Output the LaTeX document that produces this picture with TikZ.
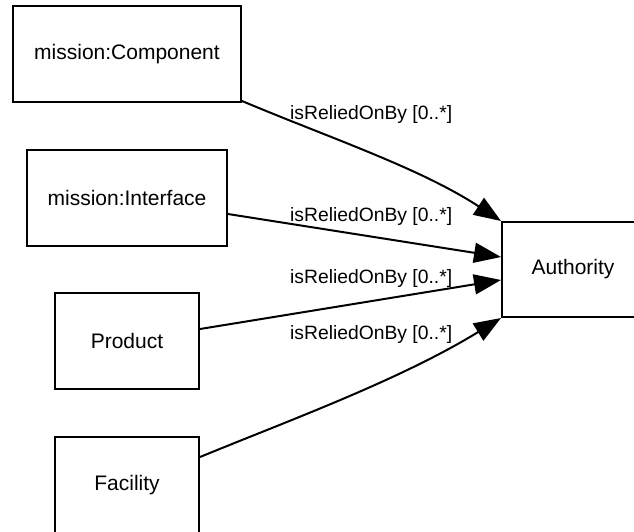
\documentclass[tikz,border=0pt]{standalone}
\usepackage{fontspec}
\setmainfont{Liberation Sans}
\usetikzlibrary{arrows.meta}
\begin{document}
\begin{tikzpicture}[x=1pt,y=-1pt,
  cls/.style={draw=black,line width=2pt,fill=white,rectangle,inner sep=0pt,font=\fontsize{21}{24}\selectfont},
  rel/.style={line width=2pt,-{Triangle[length=27pt,width=20pt]}},
  lbl/.style={anchor=west,inner sep=0pt,font=\fontsize{19.3}{22}\selectfont}]
\useasboundingbox (0,0) rectangle (634,531);
\clip (0,0) rectangle (634,531);
\fill[white] (0,0) rectangle (634,531);
\node[cls,minimum width=228pt,minimum height=96pt] (comp) at (127,54) {mission:Component};
\node[cls,minimum width=200pt,minimum height=96pt] (intf) at (127,198) {mission:Interface};
\node[cls,minimum width=144pt,minimum height=96pt] (prod) at (127,341) {Product};
\node[cls,minimum width=144pt,minimum height=96pt] (fac) at (127,485) {Facility};
\node[cls,minimum width=142pt,minimum height=95pt] (auth) at (573,269.5) {Authority};
\coordinate (a2) at ([yshift=12.5pt]auth.west);
\coordinate (a3) at ([yshift=-10.5pt]auth.west);
\draw[rel] ([yshift=2pt]comp.south east) .. controls (330,138) and (420,168) .. (auth.north west);
\draw[rel] ([yshift=-16pt]intf.east) -- (a2);
\draw[rel] ([yshift=12pt]prod.east) -- (a3);
\draw[rel] ([yshift=-21pt]fac.north east) .. controls (290,420) and (400,380) .. (auth.south west);
\node[lbl] (l1) at (290,115) {isReliedOnBy [0..*]};
\node[lbl] (l2) at (290,217) {isReliedOnBy [0..*]};
\node[lbl] (l3) at (290,279) {isReliedOnBy [0..*]};
\node[lbl] (l4) at (290,335) {isReliedOnBy [0..*]};
\end{tikzpicture}
\end{document}
